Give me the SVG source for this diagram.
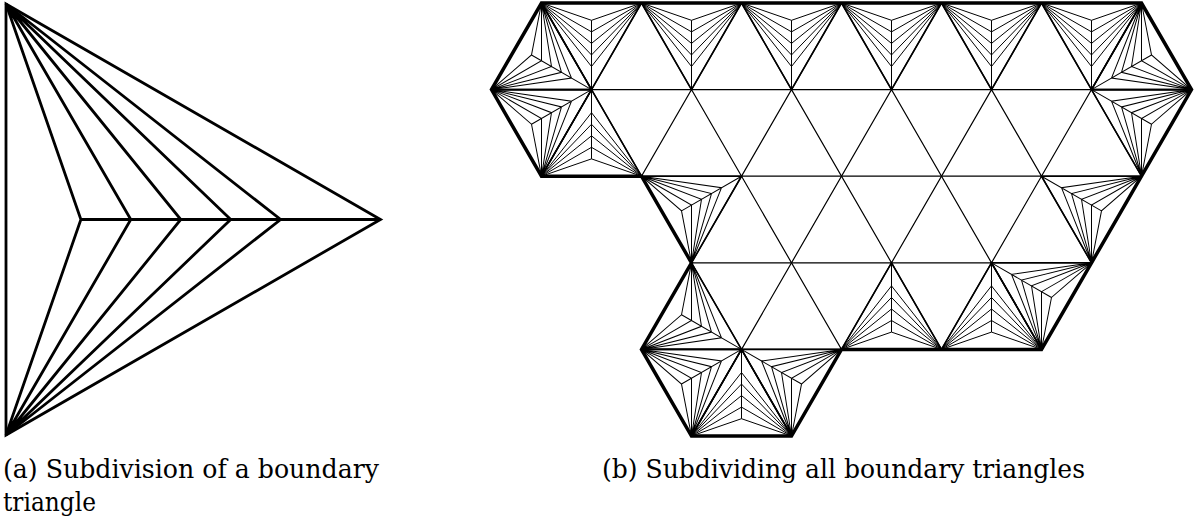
<svg xmlns="http://www.w3.org/2000/svg" width="1195" height="523" viewBox="0 0 1195 523">
  <style>
    .a { fill: none; stroke: #000; stroke-width: 2.8; stroke-linejoin: miter; }
    .lat { fill: none; stroke: #000; stroke-width: 1.2; }
    .fan { fill: none; stroke: #000; stroke-width: 1; stroke-linejoin: miter; }
    .edge { fill: none; stroke: #000; stroke-width: 1.6; stroke-linejoin: miter; }
    .bnd { fill: none; stroke: #000; stroke-width: 3.5; stroke-linejoin: miter; }
  </style>
  <defs>
    <clipPath id="hexclip">
      <polygon points="50,0 650,0 700,86.60 650,173.21 600,259.81 550,346.41 350,346.41 300,433.01 200,433.01 150,346.41 200,259.81 150,173.21 50,173.21 0,86.60"/>
    </clipPath>
    <g id="sub">
      <path class="fan" d="M0,-50 L17.32,0 L0,50 M0,-50 L28.87,0 L0,50 M0,-50 L40.41,0 L0,50 M0,-50 L51.96,0 L0,50 M0,-50 L63.51,0 L0,50 M17.32,0 L86.60,0"/>
      <path class="edge" d="M0,-50 L86.60,0 L0,50"/>
    </g>
  </defs>

  <g id="panel-a">
    <path class="a" d="M80.9,219.5 L380.5,219.5"/>
    <path class="a" d="M6,4 L80.9,219.5 L6,435 M6,4 L130.8,219.5 L6,435 M6,4 L180.8,219.5 L6,435 M6,4 L230.7,219.5 L6,435 M6,4 L280.6,219.5 L6,435"/>
    <polygon class="a" points="6,4 380.5,219.5 6,435"/>
  </g>

  <g id="panel-b" transform="translate(491.5,3)">
    <g id="lattice" clip-path="url(#hexclip)">
      <path class="lat" d="M50,0 L-200,433.01 M150,0 L-100,433.01 M250,0 L0,433.01 M350,0 L100,433.01 M450,0 L200,433.01 M550,0 L300,433.01 M650,0 L400,433.01 M750,0 L500,433.01 M850,0 L600,433.01 M950,0 L700,433.01"/>
      <path class="lat" d="M-250,0 L0,433.01 M-150,0 L100,433.01 M-50,0 L200,433.01 M50,0 L300,433.01 M150,0 L400,433.01 M250,0 L500,433.01 M350,0 L600,433.01 M450,0 L700,433.01 M550,0 L800,433.01 M650,0 L900,433.01"/>
      <path class="lat" d="M0,86.60 H700 M0,173.21 H700 M0,259.81 H700 M0,346.41 H700"/>
    </g>
    <g id="subdivisions">
      <use href="#sub" transform="translate(100,0) rotate(90)"/>
      <use href="#sub" transform="translate(200,0) rotate(90)"/>
      <use href="#sub" transform="translate(300,0) rotate(90)"/>
      <use href="#sub" transform="translate(400,0) rotate(90)"/>
      <use href="#sub" transform="translate(500,0) rotate(90)"/>
      <use href="#sub" transform="translate(600,0) rotate(90)"/>
      <use href="#sub" transform="translate(25,43.30) rotate(30)"/>
      <use href="#sub" transform="translate(675,43.30) rotate(150)"/>
      <use href="#sub" transform="translate(25,129.90) rotate(-30)"/>
      <use href="#sub" transform="translate(100,173.21) rotate(-90)"/>
      <use href="#sub" transform="translate(675,129.90) rotate(-150)"/>
      <use href="#sub" transform="translate(175,216.51) rotate(-30)"/>
      <use href="#sub" transform="translate(625,216.51) rotate(-150)"/>
      <use href="#sub" transform="translate(175,303.11) rotate(30)"/>
      <use href="#sub" transform="translate(400,346.41) rotate(-90)"/>
      <use href="#sub" transform="translate(500,346.41) rotate(-90)"/>
      <use href="#sub" transform="translate(575,303.11) rotate(-150)"/>
      <use href="#sub" transform="translate(175,389.71) rotate(-30)"/>
      <use href="#sub" transform="translate(250,433.01) rotate(-90)"/>
      <use href="#sub" transform="translate(325,389.71) rotate(-150)"/>
    </g>
    <polygon id="boundary" class="bnd" points="50,0 650,0 700,86.60 650,173.21 600,259.81 550,346.41 350,346.41 300,433.01 200,433.01 150,346.41 200,259.81 150,173.21 50,173.21 0,86.60"/>
  </g>

  <g id="captions" fill="#000" font-size="26" font-family="DejaVu Serif, serif">
    <text x="3" y="477.5" textLength="376" lengthAdjust="spacingAndGlyphs">(a) Subdivision of a boundary</text>
    <text x="3" y="511" textLength="93" lengthAdjust="spacingAndGlyphs">triangle</text>
    <text x="602" y="477.5" textLength="483" lengthAdjust="spacingAndGlyphs">(b) Subdividing all boundary triangles</text>
  </g>
</svg>
